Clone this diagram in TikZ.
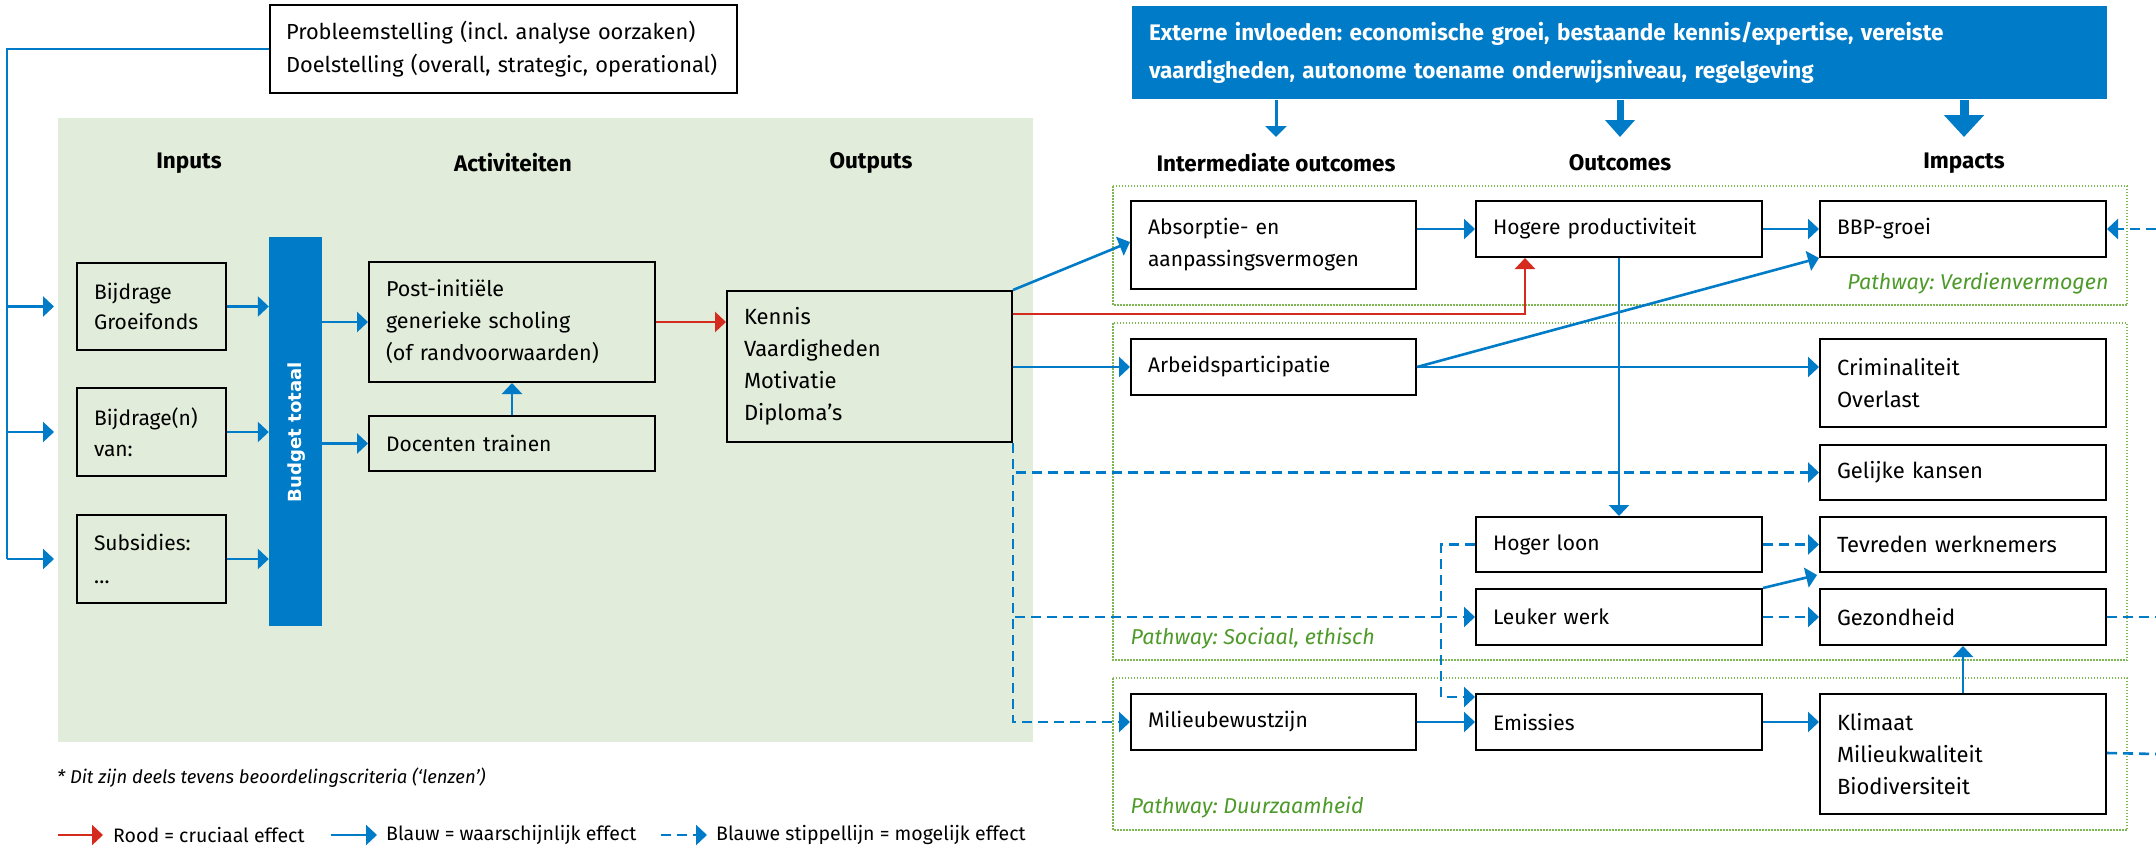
\documentclass[tikz,border=0pt]{standalone}
\usepackage{graphicx}
\usepackage{fontspec}
\setmainfont{Fira Sans}
\newfontfamily\widefont{DejaVu Sans Bold}
\usetikzlibrary{arrows.meta,calc}
\definecolor{roblue}{HTML}{007BC7}
\definecolor{rored}{HTML}{D52B1E}
\definecolor{rogreen}{HTML}{4E9A2A}
\definecolor{dotgreen}{HTML}{7DB653}
\definecolor{bggreen}{HTML}{E1ECDA}
\frenchspacing
\tikzset{
  box/.style={draw=black, line width=2pt, inner xsep=17pt, inner ysep=0pt, align=left,
    font=\fontsize{21}{32}\selectfont, anchor=center},
  wbox/.style={box, font=\fontsize{22}{32}\selectfont},
  hdr/.style={font=\bfseries\fontsize{22.5}{26}\selectfont, anchor=center},
  tip/.style={-{Triangle[length=11pt,width=20pt]}},
  bl/.style={draw=roblue, line width=2.6pt},
  bla/.style={bl, tip},
  bld/.style={bl, dash pattern=on 10pt off 6pt},
  blda/.style={bld, tip},
  rda/.style={draw=rored, line width=2.6pt, tip},
  pathbox/.style={draw=dotgreen, line width=1.2pt, dash pattern=on 1.5pt off 1.5pt},
  pathlbl/.style={text=rogreen, font=\itshape\fontsize{21.5}{26}\selectfont},
  leg/.style={font=\fontsize{19.5}{22}\selectfont, anchor=west, inner sep=0pt},
}
\begin{document}
\begin{tikzpicture}[x=1pt,y=-1pt]
\useasboundingbox (0,0) rectangle (2156,849);
% green background
\fill[bggreen] (58,118) rectangle (1033,742);
% pathway boxes
\draw[pathbox] (1113,186) rectangle (2127,305);
\draw[pathbox] (1113,323) rectangle (2127,660);
\draw[pathbox] (1113,678) rectangle (2127,830);
\node[pathlbl, anchor=east] (pw1) at (2112,283) {Pathway: Verdienvermogen};
\node[pathlbl, anchor=west] (pw2) at (1127,638) {Pathway: Sociaal, ethisch};
\node[pathlbl, anchor=west] (pw3) at (1127,807) {Pathway: Duurzaamheid};

% top boxes
\node[box, inner xsep=16pt, minimum width=467, minimum height=88, text width=435, font=\fontsize{21.8}{33}\selectfont] (prob) at (503.5,49)
  {Probleemstelling (incl. analyse oorzaken)\\Doelstelling (overall, strategic, operational)};
\node[box, draw=none, fill=roblue, text=white, minimum width=975, minimum height=93, text width=941,
  font=\bfseries\fontsize{22.5}{38}\selectfont] (ext) at (1619.5,52.5)
  {Externe invloeden: economische groei, bestaande kennis/expertise, vereiste\\vaardigheden, autonome toename onderwijsniveau, regelgeving};

% headers
\node[hdr] (hin) at (189,163) {Inputs};
\node[hdr] (hact) at (513,163) {Activiteiten};
\node[hdr] (hout) at (871,163) {Outputs};
\node[hdr] (hint) at (1276,163) {Intermediate outcomes};
\node[hdr] (hoc) at (1620,163) {Outcomes};
\node[hdr] (himp) at (1964,163) {Impacts};

% inputs
\node[box, minimum width=149, minimum height=87, text width=115, font=\fontsize{21}{30}\selectfont] (b1) at (151.5,306.5) {Bijdrage\\Groeifonds};
\node[box, minimum width=149, minimum height=88, text width=115, font=\fontsize{21}{31}\selectfont] (b2) at (151.5,432) {Bijdrage(n)\\van:};
\node[box, minimum width=149, minimum height=88, text width=115, font=\fontsize{21}{33}\selectfont] (b3) at (151.5,559) {Subsidies:\\\dots};
\node[fill=roblue, minimum width=53, minimum height=389, inner sep=0pt] (budget) at (295.5,431.5) {};
\node[rotate=90, text=white, inner sep=0pt] (budgettxt) at (297,432) {\resizebox{140pt}{!}{\widefont\fontsize{18}{20}\selectfont Budget totaal}};

% activities
\node[box, minimum width=286, minimum height=120, text width=252, font=\fontsize{21.5}{32}\selectfont] (post) at (512,322) {Post-initiële\\generieke scholing\\(of randvoorwaarden)};
\node[box, minimum width=286, minimum height=55, text width=252] (doc) at (512,443.5) {Docenten trainen};

% outputs
\node[wbox, minimum width=285, minimum height=151, text width=251] (ken) at (869.5,366.5) {Kennis\\Vaardigheden\\Motivatie\\Diploma’s};

% intermediate
\node[box, fill=white, minimum width=285, minimum height=88, text width=251] (abs) at (1273.5,245) {Absorptie- en\\aanpassingsvermogen};
\node[box, fill=white, minimum width=285, minimum height=56, text width=251] (arb) at (1273.5,367) {Arbeidsparticipatie};
\node[box, fill=white, minimum width=285, minimum height=56, text width=251] (mil) at (1273.5,722) {Milieubewustzijn};

% outcomes
\node[box, minimum width=286, minimum height=56, text width=252] (hog) at (1619,229) {Hogere productiviteit};
\node[box, minimum width=286, minimum height=55, text width=252] (loon) at (1619,544.5) {Hoger loon};
\node[box, minimum width=286, minimum height=56, text width=252] (leuk) at (1619,617) {Leuker werk};
\node[box, minimum width=286, minimum height=56, text width=252] (emis) at (1619,722) {Emissies};

% impacts
\node[box, minimum width=286, minimum height=56, text width=252] (bbp) at (1963,229) {BBP-groei};
\node[wbox, minimum width=286, minimum height=88, text width=252] (crim) at (1963,383) {Criminaliteit\\Overlast};
\node[wbox, minimum width=286, minimum height=55, text width=252] (gel) at (1963,472.5) {Gelijke kansen};
\node[wbox, minimum width=286, minimum height=55, text width=252] (tev) at (1963,544.5) {Tevreden werknemers};
\node[wbox, minimum width=286, minimum height=56, text width=252] (gez) at (1963,617) {Gezondheid};
\node[wbox, minimum width=286, minimum height=120, text width=252] (klim) at (1963,754) {Klimaat\\Milieukwaliteit\\Biodiversiteit};

% left feedback line
\coordinate (ltop) at (7,49);
\draw[bl] (prob.west) -- (ltop) -- (ltop |- b3.west);
\draw[bla] (ltop |- b3.west) -- ($(b3.west)+(-22,0)$);
\draw[bla] (ltop |- b1.west) -- ($(b1.west)+(-22,0)$);
\draw[bla] (ltop |- b2.west) -- ($(b2.west)+(-22,0)$);

% inputs -> budget
\draw[bla] (b1.east) -- (b1.east -| budget.west);
\draw[bla] (b2.east) -- (b2.east -| budget.west);
\draw[bla] (b3.east) -- (b3.east -| budget.west);
\draw[bla] (budget.east |- post.west) -- (post.west);
\draw[bla] (budget.east |- doc.west) -- (doc.west);
\draw[bla] (doc.north) -- (post.south);
\draw[rda] (post.east) -- (post.east -| ken.west);

% outputs -> intermediate
\draw[bla] (ken.north east) -- ($(abs.west)+(0,-3)$);
\coordinate (redy) at (0,314);
\coordinate (redx) at (1525,0);
\draw[rda] (ken.east |- redy) -| (redx |- hog.south);
\draw[bla] (ken.east |- arb.west) -- (arb.west);
\draw[blda] (ken.south east) |- (mil.west);
\draw[blda] (ken.south east) |- (gel.west);
\draw[blda] (ken.south east) |- (leuk.west);

% intermediate -> outcomes / impacts
\draw[bla] (abs.east |- hog.west) -- (hog.west);
\draw[bla] (hog.east) -- (bbp.west);
\draw[bla] (arb.east) -- (arb.east -| crim.west);
\draw[bla] (arb.east) -- (bbp.south west);
\draw[bla] (hog.south) -- (loon.north);
\draw[bla] (mil.east) -- (emis.west);
\draw[bla] (emis.east) -- (emis.east -| klim.west);
\draw[bla] (klim.north) -- (gez.south);

% outcomes -> impacts
\coordinate (loonx) at (1441,0);
\draw[blda] (loon.west) -- (loonx |- loon.west) |- ($(emis.north west)+(0,4)$);
\draw[blda] (loon.east) -- (tev.west);
\draw[bla] (leuk.north east) -- ($(tev.south west)+(-2,2)$);
\draw[blda] (leuk.east) -- (gez.west);

% right edge dashed connections
\coordinate (redge) at (2156,0);
\draw[bld] (gez.east) -- (redge |- gez.east);
\draw[bld] ($(klim.east)+(0,-1)$) -- (redge |- klim.east);
\draw[blda] (redge |- bbp.east) -- (bbp.east);

% external influences arrows
\draw[draw=roblue, line width=3pt, -{Triangle[length=11pt,width=21pt]}] (ext.south -| hint) -- ++(0,37);
\draw[draw=roblue, line width=7pt, -{Triangle[length=17pt,width=29pt]}] (ext.south -| hoc) -- ++(0,37);
\draw[draw=roblue, line width=9pt, -{Triangle[length=22pt,width=39pt]}] (ext.south -| himp) -- ++(0,37);

% footnote and legend
\node[leg, font=\itshape\fontsize{18.5}{22}\selectfont] (foot) at (57,778) {* Dit zijn deels tevens beoordelingscriteria (‘lenzen’)};
\coordinate (l1a) at (58,835); \coordinate (l1b) at (103,835);
\draw[rda] (l1a) -- (l1b);
\node[leg] (lt1) at (113,835) {Rood = cruciaal effect};
\coordinate (l2a) at (331,835); \coordinate (l2b) at (377,835);
\draw[bla] (l2a) -- (l2b);
\node[leg] (lt2) at (386,835) {Blauw = waarschijnlijk effect};
\coordinate (l3a) at (661,835); \coordinate (l3b) at (707,835);
\draw[blda] (l3a) -- (l3b);
\node[leg] (lt3) at (716,835) {Blauwe stippellijn = mogelijk effect};
\end{tikzpicture}
\end{document}
